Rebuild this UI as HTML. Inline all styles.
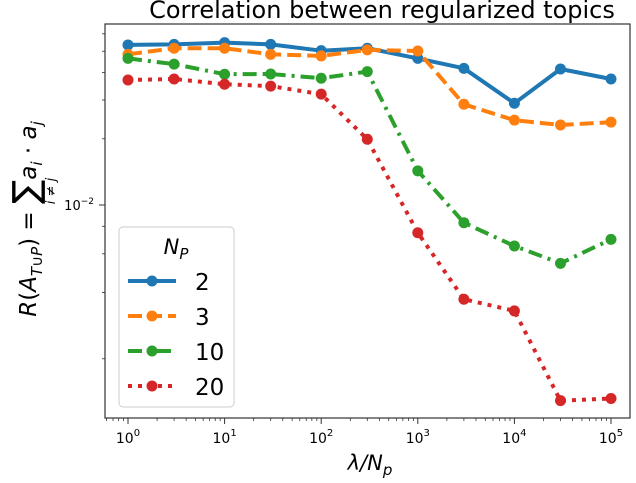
<!DOCTYPE html>
<html><head><meta charset="utf-8"><style>
body{margin:0;background:#fff;}
svg text{font-family:"DejaVu Sans","Liberation Sans",sans-serif;}
</style></head><body>
<svg id="chart" width="636" height="478" viewBox="0 0 636 478">
<text x="382" y="18" font-size="24" text-anchor="middle">Correlation between regularized topics</text>
<g id="ticks"></g>
<g id="series"></g>
<rect x="105" y="24" width="525" height="394" fill="none" stroke="#333" stroke-width="1.2"/>
<text x="370" y="470" font-size="21" text-anchor="middle" font-style="italic">λ/N<tspan font-size="15" dy="5">p</tspan></text>
<g transform="translate(36,219) rotate(-90)">
<text x="0" y="0" font-size="23" text-anchor="middle"><tspan font-style="italic">R</tspan>(<tspan font-style="italic">A</tspan><tspan font-size="15" dy="6" font-style="italic">T∪P</tspan><tspan dy="-6">) = </tspan><tspan font-size="36" dy="2">∑</tspan><tspan font-style="italic" dy="-2">a</tspan><tspan font-size="15" dy="6" font-style="italic">i</tspan><tspan dy="-6"> · </tspan><tspan font-style="italic">a</tspan><tspan font-size="15" dy="6" font-style="italic">j</tspan></text>
<text x="28" y="19" font-size="13" font-style="italic" text-anchor="middle">i ≠ j</text>
</g>
<g>
<rect x="119" y="227" width="115" height="180" rx="4" fill="#fff" fill-opacity="0.8" stroke="#ccc"/>
<text x="176" y="254" font-size="21" text-anchor="middle" font-style="italic">N<tspan font-size="15" dy="5">P</tspan></text>
<g id="legend-entries"></g>
</g>
</svg>
<script>
const xValues=[1,3,10,30,100,300,1000,3000,10000,30000,100000];
const seriesNames=["2","3","10","20"];
const s2=[0.0534,0.0537,0.0547,0.0537,0.0503,0.0516,0.0464,0.0418,0.0290,0.0415,0.0374];
const s3=[0.0484,0.0516,0.0516,0.0484,0.0476,0.0507,0.0501,0.0287,0.0243,0.0231,0.0238];
const s10=[0.0464,0.0437,0.0393,0.0394,0.0377,0.0404,0.0143,0.00831,0.00651,0.00543,0.00698];
const s20=[0.0370,0.0374,0.0354,0.0347,0.0319,0.0199,0.00748,0.00373,0.00330,0.00129,0.00132];
const xTickExps=[0,1,2,3,4,5];
const yMinorTicks=[0.06,0.05,0.04,0.03,0.02,0.008,0.006,0.004,0.002];
const NS="http://www.w3.org/2000/svg";
function xs(v){return 128+96.6*Math.log10(v);}
function ys(v){return 205-220*Math.log10(v/0.01);}
function mk(t,a,p){const e=document.createElementNS(NS,t);for(const k in a)e.setAttribute(k,a[k]);(p||document.getElementById('series')).appendChild(e);return e;}
const ticks=document.getElementById('ticks');
xTickExps.forEach(e=>{
 const x=xs(Math.pow(10,e));
 const l=mk('line',{x1:x,x2:x,y1:418,y2:424,stroke:'#333'},ticks);
 
 
 const t=mk('text',{x:x,y:443,'font-size':14,'text-anchor':'middle'},ticks);
 
 
 t.innerHTML='10<tspan font-size="10" dy="-7">'+e+'</tspan>';
 for(let m=2;m<10;m++){
  const v=Math.pow(10,e)*m; if(v>130000)break;
  const xm=xs(v);
  const ml=mk('line',{x1:xm,x2:xm,y1:418,y2:421,stroke:'#333','stroke-width':0.8},ticks);
  
  
 }
});
[0.6,0.7,0.8,0.9].forEach(v=>{const ml=mk('line',{x1:xs(v),x2:xs(v),y1:418,y2:421,stroke:'#333','stroke-width':0.8},ticks);
 
 });
{
 const y=ys(0.01);
 const l=mk('line',{x1:99,x2:105,y1:y,y2:y,stroke:'#333'},ticks);
 
 
 const t=mk('text',{x:94,y:y+5,'font-size':13,'text-anchor':'end'},ticks);
 
 
 t.innerHTML='10<tspan font-size="9" dy="-6">−2</tspan>';
}
yMinorTicks.forEach(v=>{const y=ys(v);const l=mk('line',{x1:102,x2:105,y1:y,y2:y,stroke:'#333','stroke-width':0.8},ticks);
 
 });
const all=[s2,s3,s10,s20];
const colors=['#1f77b4','#ff7f0e','#2ca02c','#d62728'];
const dashes=['none','14 6','14 6 3 6','4 6'];
const caps=['round','butt','butt','butt'];
all.forEach((s,i)=>{
 const pts=s.map((v,j)=>xs(xValues[j]).toFixed(1)+','+ys(v).toFixed(1)).join(' ');
 const pl=mk('polyline',{points:pts,fill:'none',stroke:colors[i],'stroke-width':4,'stroke-dasharray':dashes[i],'stroke-linecap':caps[i],'stroke-linejoin':'round'});
 
 
 s.forEach((v,j)=>{const c=mk('circle',{cx:xs(xValues[j]),cy:ys(v),r:5.5,fill:colors[i]});
  
  });
 const le=document.getElementById('legend-entries');
 const ly=281+i*35;
 const ll=mk('line',{x1:128,x2:176,y1:ly,y2:ly,stroke:colors[i],'stroke-width':4,'stroke-dasharray':dashes[i]},le);
 
 
 const lc=mk('circle',{cx:152,cy:ly,r:5.5,fill:colors[i]},le);
 
 
 const lt=mk('text',{x:195,y:ly+9,'font-size':23},le);
 
 
 lt.textContent=seriesNames[i];
});
</script>
</body></html>
